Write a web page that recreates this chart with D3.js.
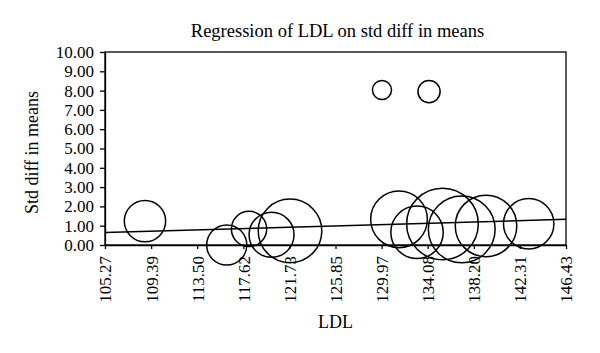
<!DOCTYPE html>
<html>
<head>
<meta charset="utf-8">
<script src="https://cdn.jsdelivr.net/npm/d3@7"></script>
<style>
  body { margin: 0; background: #fff; }
  text { font-family: "Liberation Serif", "DejaVu Serif", serif; fill: #000; }
</style>
</head>
<body>
<div id="myVis"></div>
<script>
var margin = {top: 52, right: 34, bottom: 108, left: 105},
width = 600 - margin.left - margin.right,
height = 353 - margin.top - margin.bottom;

// studies: LDL, std diff in means, weight
const ldl    = [108.84, 116.14, 118.13, 120.14, 121.79, 131.52, 133.13, 135.40, 137.12, 139.29, 143.10, 130.00, 134.20]
const effect = [1.24, 0.00, 0.83, 0.53, 0.73, 1.33, 0.66, 1.09, 0.81, 0.99, 1.10, 8.03, 7.95]
const weight = [33, 31, 24, 39, 78, 62, 53, 99, 86, 73, 49, 7, 9.5]

const xTicks = [105.27, 109.39, 113.50, 117.62, 121.73, 125.85, 129.97, 134.08, 138.20, 142.31, 146.43]
const yTicks = [0, 1, 2, 3, 4, 5, 6, 7, 8, 9, 10]

// regression line end points
const lineX = [105.27, 146.43]
const lineY = [0.65, 1.33]

const svg = d3.select("#myVis")
    .append("svg")
        .attr("width", 600)
        .attr("height", 353)
        .style("background-color", "white")

const canvas = svg.append("g")
    .attr("transform", "translate(" + margin.left + "," + margin.top + ")")

const x = d3.scaleLinear().domain([105.27, 146.43]).range([0, width])
const y = d3.scaleLinear().domain([0, 10]).range([height, 0])
const r = d3.scaleSqrt().domain([0, 100]).range([0, 36])

// frame
canvas.append("rect")
    .attr("width", width)
    .attr("height", height)
    .attr("fill", "none")
    .attr("stroke", "#000")
    .attr("stroke-width", 1.3)

const yAxis = canvas.append("g")
    .call(d3.axisLeft(y).tickValues(yTicks).tickSize(5).tickSizeOuter(0).tickFormat(d3.format(".2f")))
yAxis.selectAll("text").style("font-size", "17px").attr("x", -11)

const xAxis = canvas.append("g")
    .attr("transform", "translate(0," + height + ")")
    .call(d3.axisBottom(x).tickValues(xTicks).tickSize(4).tickSizeOuter(0).tickFormat(d3.format(".2f")))
xAxis.selectAll("text")
    .style("font-size", "17px")
    .attr("transform", "rotate(-90)")
    .attr("text-anchor", "end")
    .attr("dy", "0.35em")
    .attr("x", -11)
    .attr("y", 0)

canvas.selectAll(".domain, .tick line").attr("stroke", "#000").attr("stroke-width", 1.3)

// regression line
canvas.append("line")
    .attr("x1", x(lineX[0]))
    .attr("y1", y(lineY[0]))
    .attr("x2", x(lineX[1]))
    .attr("y2", y(lineY[1]))
    .attr("stroke", "#000")
    .attr("stroke-width", 1.5)

// bubbles
const dots = ldl.map((d, i) => ({x: d, y: effect[i], w: weight[i]}))

canvas.append("g")
    .selectAll("circle")
    .data(dots)
    .enter()
    .append("circle")
        .attr("cx", (d) => x(d.x))
        .attr("cy", (d) => y(d.y))
        .attr("r", (d) => r(d.w))
        .attr("fill", "none")
        .attr("stroke", "#000")
        .attr("stroke-width", 1.5)

// titles
svg.append("text")
    .attr("x", margin.left + width / 2 + 2)
    .attr("y", 37)
    .attr("text-anchor", "middle")
    .style("font-size", "18.5px")
    .text("Regression of LDL on std diff in means")

svg.append("text")
    .attr("x", margin.left + width / 2)
    .attr("y", 328)
    .attr("text-anchor", "middle")
    .style("font-size", "18px")
    .text("LDL")

svg.append("text")
    .attr("transform", "translate(38," + (margin.top + height / 2 + 4) + ") rotate(-90)")
    .attr("text-anchor", "middle")
    .style("font-size", "18px")
    .text("Std diff in means")
</script>
</body>
</html>
